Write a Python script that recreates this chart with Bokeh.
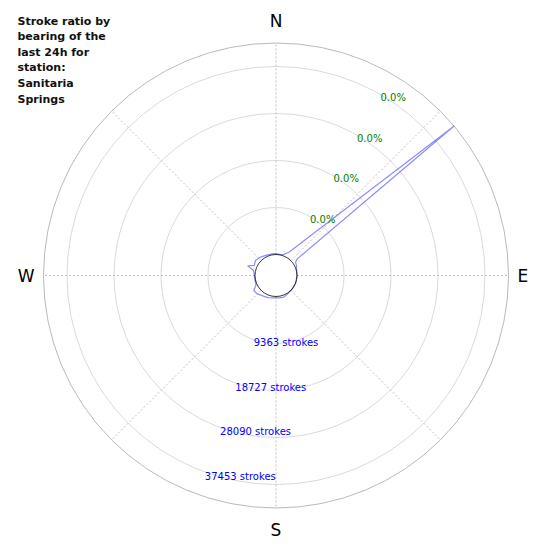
import numpy as np
from bokeh.plotting import figure
from bokeh.models import Range1d, Label
from bokeh.core.properties import value
from bokeh.embed import file_html
from bokeh.resources import INLINE

# ---------------- data ----------------
title_text = "Stroke ratio by\nbearing of the\nlast 24h for\nstation:\nSanitaria\nSprings"

bearings = [0, 12, 20, 29, 50, 52, 56, 64, 75, 90, 110, 130, 150, 160, 172, 186,
            200, 215, 226, 236, 245, 260, 275, 283, 289, 295, 306, 320, 335, 350]
strokes = [200, 60, 300, 1115, 42135, 1195, 520, 360, 60, 0, 0, 40, 200, 400, 300, 280,
           500, 700, 1055, 1155, 200, 100, 200, 440, 1790, 600, 875, 600, 300, 200]

r_max = 42135
tick_values = [9363, 18727, 28090, 37453]
tick_labels = ["9363 strokes", "18727 strokes", "28090 strokes", "37453 strokes"]
pct_labels = ["0.0%", "0.0%", "0.0%", "0.0%"]
compass_labels = ["N", "E", "S", "W"]
compass_bearings = [0, 90, 180, 270]
grid_bearings = [0, 45, 90, 135, 180, 225, 270, 315]

# ---------------- geometry (1 data unit = 1 px) ----------------
R0 = 21.0     # radius of the empty centre
R1 = 232.5    # radius of the outer circle
W = H = 542
cx, cy = 275.5, 275.0   # centre of the polar area inside the figure (px)


def rad(v):
    return R0 + np.asarray(v, dtype=float) / r_max * (R1 - R0)


def pol(b, r):
    th = np.radians(np.asarray(b, dtype=float))
    r = np.asarray(r, dtype=float)
    return r * np.sin(th), r * np.cos(th)


p = figure(width=W, height=H, output_backend="svg", toolbar_location=None,
           x_range=Range1d(-cx, W - cx), y_range=Range1d(-(H - cy), cy),
           min_border=0, outline_line_color=None, background_fill_color="white")
p.axis.visible = False
p.grid.visible = False

# radial grid circles
p.circle(x=[0] * len(tick_values), y=[0] * len(tick_values), radius=list(rad(tick_values)),
         fill_color=None, line_color="#d0d0d0", line_width=0.8)
p.circle(x=[0], y=[0], radius=[R1], fill_color=None, line_color="#a8a8a8", line_width=0.8)

# angular dashed grid
gx0, gy0 = pol(grid_bearings, [R0] * len(grid_bearings))
gx1, gy1 = pol(grid_bearings, [R1] * len(grid_bearings))
p.segment(x0=list(gx0), y0=list(gy0), x1=list(gx1), y1=list(gy1),
          line_color="#b0b0b0", line_width=0.8, line_dash="2 2")

# data polygon
bx, by = pol(bearings + bearings[:1], list(rad(strokes + strokes[:1])))
p.line(x=list(bx), y=list(by), line_color="blue", line_alpha=0.45, line_width=1.2)

# centre hole
p.circle(x=[0], y=[0], radius=[R0], fill_color="white", fill_alpha=0.0,
         line_color="black", line_width=0.8)

# stroke labels
sx, sy = pol([198.9] * len(tick_values), rad(tick_values))
p.text(x=list(sx), y=list(sy), text=tick_labels, text_color="blue",
       text_font=value("DejaVu Sans"), text_font_size="10px",
       text_align="center", text_baseline="middle", x_offset=32, y_offset=3)

# percentage labels
px_, py_ = pol([30] * len(tick_values), rad(tick_values))
p.text(x=list(px_), y=list(py_), text=pct_labels, text_color="green",
       text_font=value("DejaVu Sans"), text_font_size="10px",
       text_align="left", text_baseline="middle", y_offset=3)

# compass labels
pads = [22, 9, 22, 9]
aligns = ["center", "left", "center", "right"]
cxs, cys = pol(compass_bearings, [R1 + d for d in pads])
p.text(x=list(cxs), y=list(cys), text=compass_labels, text_color="black",
       text_font=value("DejaVu Sans"), text_font_size="17px",
       text_align=aligns, text_baseline="middle")

# title
p.add_layout(Label(x=17, y=H - 14, x_units="screen", y_units="screen", text=title_text,
                   text_font="DejaVu Sans", text_font_style="bold", text_font_size="11px",
                   text_color="#111111", text_align="left", text_baseline="top",
                   text_line_height=1.2))

open("out.html", "w").write(file_html(p, INLINE))
